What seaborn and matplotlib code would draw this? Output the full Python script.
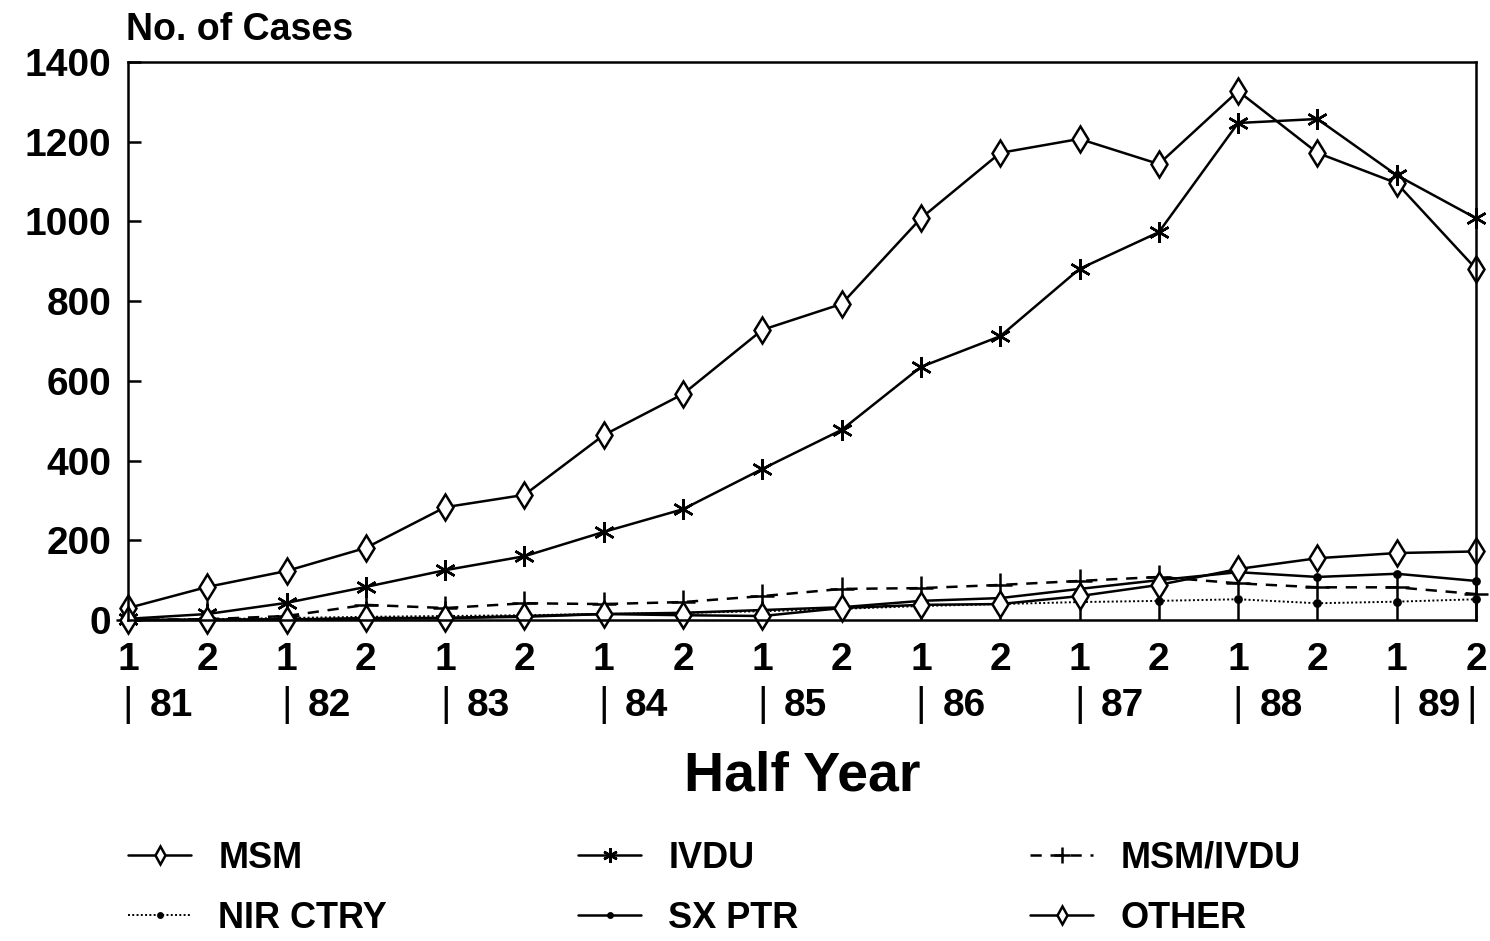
import numpy as np
import pandas as pd
import seaborn as sns
import matplotlib.pyplot as plt
import matplotlib.transforms as mtransforms

# half-year AIDS cases by exposure group, 1981 H1 .. 1989 H2
years = ['81', '82', '83', '84', '85', '86', '87', '88', '89']
halves = ['1', '2']

msm = [30, 83, 123, 181, 283, 314, 464, 567, 728, 793, 1008, 1172, 1207, 1144, 1327, 1172, 1096, 881]
ivdu = [3, 15, 43, 83, 125, 160, 221, 278, 379, 477, 635, 712, 881, 973, 1247, 1257, 1116, 1008]
msm_ivdu = [0, 2, 10, 38, 30, 42, 40, 45, 60, 78, 80, 88, 98, 108, 92, 82, 82, 65]
nir_ctry = [0, 2, 5, 8, 10, 12, 15, 18, 22, 28, 35, 40, 45, 48, 52, 42, 46, 52]
sx_ptr = [0, 1, 2, 3, 5, 8, 15, 18, 25, 32, 48, 55, 78, 100, 120, 108, 116, 98]
other = [0, 0, 0, 5, 5, 10, 15, 12, 10, 30, 38, 40, 60, 88, 128, 155, 168, 172]

sns.set_style("white")
plt.rcParams['font.family'] = ['Liberation Sans', 'DejaVu Sans']
plt.rcParams['font.weight'] = 'bold'
plt.rcParams['text.color'] = 'black'
plt.rcParams['xtick.color'] = 'black'
plt.rcParams['ytick.color'] = 'black'
plt.rcParams['axes.labelcolor'] = 'black'

x = np.arange(len(years) * 2)
df = pd.DataFrame({'x': x, 'MSM': msm, 'IVDU': ivdu, 'MSM/IVDU': msm_ivdu,
                   'NIR CTRY': nir_ctry, 'SX PTR': sx_ptr, 'OTHER': other})

fig = plt.figure(figsize=(14.9, 9.41), dpi=100)
ax = fig.add_axes([128 / 1490, 1 - 620 / 941, (1476 - 128) / 1490, (620 - 62) / 941])

lw = 1.8
styles = {
    'MSM': dict(marker='d', linestyle='-', markersize=13, markerfacecolor='white'),
    'IVDU': dict(marker=(6, 2, 0), linestyle='-', markersize=15),
    'MSM/IVDU': dict(marker='+', linestyle=(0, (4.5, 3.5)), markersize=17),
    'NIR CTRY': dict(marker='o', linestyle=(0, (1, 1.2)), markersize=4.5, linewidth=1.4),
    'SX PTR': dict(marker='o', linestyle='-', markersize=4.5),
    'OTHER': dict(marker='d', linestyle='-', markersize=13, markerfacecolor='white'),
}
lines = {}
for name, st in styles.items():
    st = dict(st)
    st.setdefault('linewidth', lw)
    sns.lineplot(data=df, x='x', y=name, ax=ax, color='black', legend=False,
                 markeredgewidth=1.8, markeredgecolor='black', clip_on=False,
                 label=name, **st)
    lines[name] = ax.lines[-1]

ax.set_xlim(0, 17)
ax.set_ylim(0, 1400)
ax.set_yticks(range(0, 1401, 200))
ax.set_xticks(x)
ax.set_xticklabels(halves * len(years))
for s in ax.spines.values():
    s.set_linewidth(1.8)
    s.set_color('black')
ax.tick_params(axis='y', direction='in', length=9, width=1.8, labelsize=28, pad=12, left=True)
ax.tick_params(axis='x', direction='in', length=14, width=1.8, labelsize=28, pad=16, bottom=True)

# year row under the half-year labels
trans = mtransforms.blended_transform_factory(ax.transData, ax.transAxes)
for i, yr in enumerate(years):
    ax.text(2 * i, -0.118, '|', transform=trans, ha='center', va='top', fontsize=29, fontweight='normal')
    ax.text(2 * i + 0.27, -0.122, yr, transform=trans, ha='left', va='top', fontsize=28, fontweight='bold')
ax.text(17 - 0.05, -0.118, '|', transform=trans, ha='center', va='top', fontsize=29, fontweight='normal')

ax.set_xlabel('Half Year', fontsize=40, fontweight='bold')
ax.xaxis.set_label_coords(0.5, -0.28)
ax.xaxis.label.set_va('center')
ax.set_ylabel('')
fig.text(126 / 1490, 1 - 40 / 941, 'No. of Cases', ha='left', va='baseline', fontsize=27, fontweight='bold')

# legend: three fixed columns, two rows each
columns = [['MSM', 'NIR CTRY'], ['IVDU', 'SX PTR'], ['MSM/IVDU', 'OTHER']]
col_x = [128, 578, 1030]
for names, cx in zip(columns, col_x):
    leg = fig.legend([lines[n] for n in names], names, loc='upper left',
                     bbox_to_anchor=(cx / 1490, 1 - 841 / 941), frameon=False,
                     fontsize=26, handlelength=1.75, handletextpad=0.75,
                     labelspacing=0.68, borderpad=0, borderaxespad=0, markerscale=0.7)
    for t in leg.get_texts():
        t.set_fontweight('bold')

fig.savefig('out.png', dpi=100)
